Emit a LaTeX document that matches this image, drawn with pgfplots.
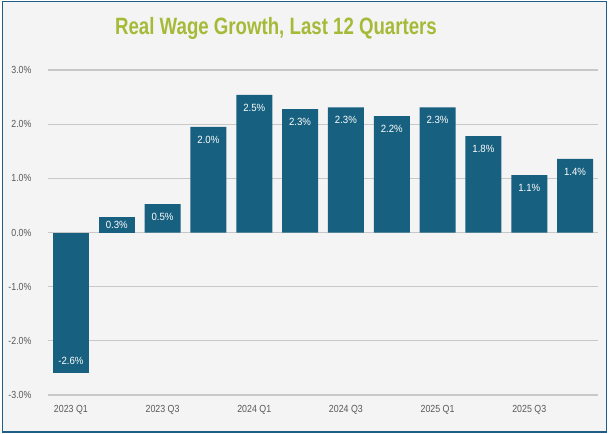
\documentclass[border=0pt]{standalone}
\usepackage{fontspec}
\usepackage{pgfplots}
\pgfplotsset{compat=1.18}
\usepackage{pgfplotstable}
\setmainfont{Liberation Sans}
\newfontfamily\narrowfont[FakeStretch=0.86]{Liberation Sans}
\newfontfamily\labelfont[FakeStretch=0.92]{Liberation Sans}
\newfontfamily\titlefont[FakeStretch=0.79]{Liberation Sans Bold}
\definecolor{barblue}{HTML}{17607F}
\definecolor{titlegreen}{HTML}{A6BA38}
\definecolor{gridgray}{HTML}{C8C8C8}
\definecolor{ticktext}{HTML}{595959}
\definecolor{frameblue}{HTML}{1F5E86}
\definecolor{bggray}{HTML}{F4F4F4}

\pgfplotstableread{
x y lab
2 0.525 0.5\%
3 1.95 2.0\%
4 2.54 2.5\%
5 2.28 2.3\%
6 2.31 2.3\%
7 2.15 2.2\%
8 2.31 2.3\%
9 1.78 1.8\%
10 1.06 1.1\%
11 1.36 1.4\%
}\posdata
\pgfplotstableread{
x y lab
1 0.285 0.3\%
}\smalldata
\pgfplotstableread{
x y lab
0 -2.59 -2.6\%
}\negdata

\begin{document}
\begin{tikzpicture}
\path (-48bp,-39bp) rectangle (561bp,395bp);
\filldraw[fill=bggray, draw=frameblue, line width=1.5bp] (-45.5bp,-37bp) rectangle (558.5bp,393.5bp);
\node[anchor=base, text=titlegreen, font=\titlefont\fontsize{23.7}{26}\selectfont] at (228bp,360.7bp) {Real Wage Growth, Last 12 Quarters};
\begin{axis}[
  at={(0,0)}, anchor=south west,
  scale only axis, width=550bp, height=325bp,
  xmin=-0.5, xmax=11.5, ymin=-3, ymax=3,
  axis line style={draw=none},
  tick style={draw=none},
  ymajorgrids, xmajorgrids=false,
  grid style={gridgray, line width=1.1bp},
  major tick length=0pt,
  xtick={0,2,4,6,8,10},
  xticklabels={2023 Q1,2023 Q3,2024 Q1,2024 Q3,2025 Q1,2025 Q3},
  ytick={-3,-2,-1,0,1,2,3},
  yticklabels={-3.0\%,-2.0\%,-1.0\%,0.0\%,1.0\%,2.0\%,3.0\%},
  tick label style={font=\narrowfont\fontsize{10.3}{12}\selectfont, text=ticktext},
  yticklabel style={xshift=-13bp},
  xticklabel style={yshift=-7bp},
  ybar, bar width=36bp,
  clip=false,
]
\addplot[ybar, bar shift=0pt, fill=barblue, draw=none,
  point meta=explicit symbolic,
  nodes near coords,
  every node near coord/.append style={anchor=north, yshift=-5.5bp, text=white, font=\labelfont\fontsize{10.5}{12}\selectfont}]
  table[x=x, y=y, meta=lab] {\posdata};
\addplot[ybar, bar shift=0pt, fill=barblue, draw=none,
  point meta=explicit symbolic,
  nodes near coords,
  every node near coord/.append style={anchor=center, yshift=-7.5bp, text=white, font=\labelfont\fontsize{10.5}{12}\selectfont}]
  table[x=x, y=y, meta=lab] {\smalldata};
\addplot[ybar, bar shift=0pt, fill=barblue, draw=none,
  point meta=explicit symbolic,
  nodes near coords,
  every node near coord/.append style={anchor=south, yshift=5bp, text=white, font=\labelfont\fontsize{10.5}{12}\selectfont}]
  table[x=x, y=y, meta=lab] {\negdata};
\end{axis}
\end{tikzpicture}
\end{document}
